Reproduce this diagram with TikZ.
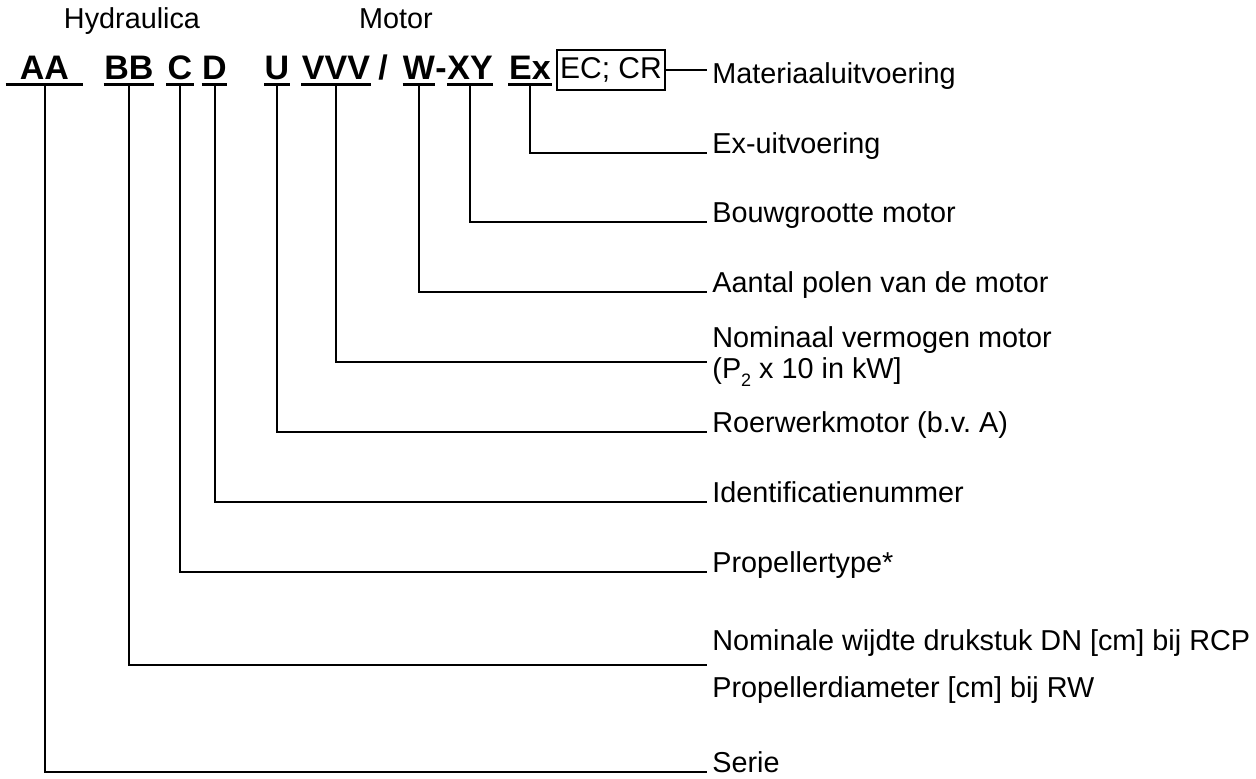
\documentclass[tikz,border=0pt]{standalone}
\usepackage{fontspec}
\setmainfont{Liberation Sans}
\usepackage{tikz}
\tikzset{
  code/.style={font=\bfseries\fontsize{17}{20}\selectfont, inner sep=0pt, text depth=2.5pt, anchor=base},
  lbl/.style={font=\fontsize{14.4}{17}\selectfont, inner xsep=2.5pt, inner ysep=0pt, anchor=base west},
  conn/.style={line width=1pt},
  uline/.style={line width=1.5pt}
}

\begin{document}
\begin{tikzpicture}[x=0.5pt,y=-0.5pt]
\useasboundingbox (0,0) rectangle (1256,778);
\node[lbl, anchor=base] (hyd) at (132,28) {Hydraulica};
\node[lbl, anchor=base] (mot) at (396,28) {Motor};

\node[code, minimum width=38.5pt] (aa) at (44.5,79) {AA};
\node[code, minimum width=25pt] (bb) at (129,79) {BB};
\node[code, minimum width=13.5pt] (c) at (180,79) {C};
\node[code, minimum width=12.5pt] (d) at (214.5,79) {D};
\node[code, minimum width=12.5pt] (u) at (277,79) {U};
\node[code, minimum width=34.5pt] (vvv) at (336,79) {VVV};
\node[code] (slash) at (383,79) {/};
\node[code, minimum width=16pt] (w) at (419,79) {W};
\node[code] (dash) at (441,79) {-};
\node[code, minimum width=21pt] (xy) at (470,79) {XY};
\node[code, minimum width=21.5pt] (ex) at (530,79) {Ex};
\node[draw, line width=0.75pt, font=\fontsize{15}{17}\selectfont, inner sep=0pt, minimum width=54pt, minimum height=20pt, text height=10.5pt, text depth=2.5pt] (ecr) at (611,70) {EC; CR};
\foreach \n in {aa,bb,c,d,u,vvv,w,xy,ex}
  \draw[uline] (\n.south west) -- (\n.south east);

\node[lbl] (matl) at (707,83) {Materiaaluitvoering};
\node[lbl] (exu) at (707,153) {Ex-uitvoering};
\node[lbl] (bouw) at (707,222) {Bouwgrootte motor};
\node[lbl] (polen) at (707,292) {Aantal polen van de motor};
\node[lbl] (vermogen) at (707,347) {Nominaal vermogen motor};
\node[lbl] (kw) at (707,378) {(P\raisebox{-4pt}{\fontsize{9}{10}\selectfont 2} x 10 in kW]};
\coordinate (vmend) at (707,362);
\node[lbl] (roer) at (707,432) {Roerwerkmotor (b.v.\ A)};
\node[lbl] (ident) at (707,502) {Identificatienummer};
\node[lbl] (ptype) at (707,572) {Propellertype*};
\node[lbl] (dn) at (707,650) {Nominale wijdte drukstuk DN [cm] bij RCP};
\node[lbl] (pdiam) at (707,697) {Propellerdiameter [cm] bij RW};
\coordinate (bbend) at (707,665);
\node[lbl] (serie) at (707,772) {Serie};

\draw[conn] (ecr.east) -- (ecr.east -| matl.base west);
\draw[conn] (ex.south) |- (exu.base west);
\draw[conn] (xy.south) |- (bouw.base west);
\draw[conn] (w.south) |- (polen.base west);
\draw[conn] (vvv.south) |- (vmend);
\draw[conn] (u.south) |- (roer.base west);
\draw[conn] (d.south) |- (ident.base west);
\draw[conn] (c.south) |- (ptype.base west);
\draw[conn] (bb.south) |- (bbend);
\draw[conn] (aa.south) |- (serie.base west);
\end{tikzpicture}
\end{document}
